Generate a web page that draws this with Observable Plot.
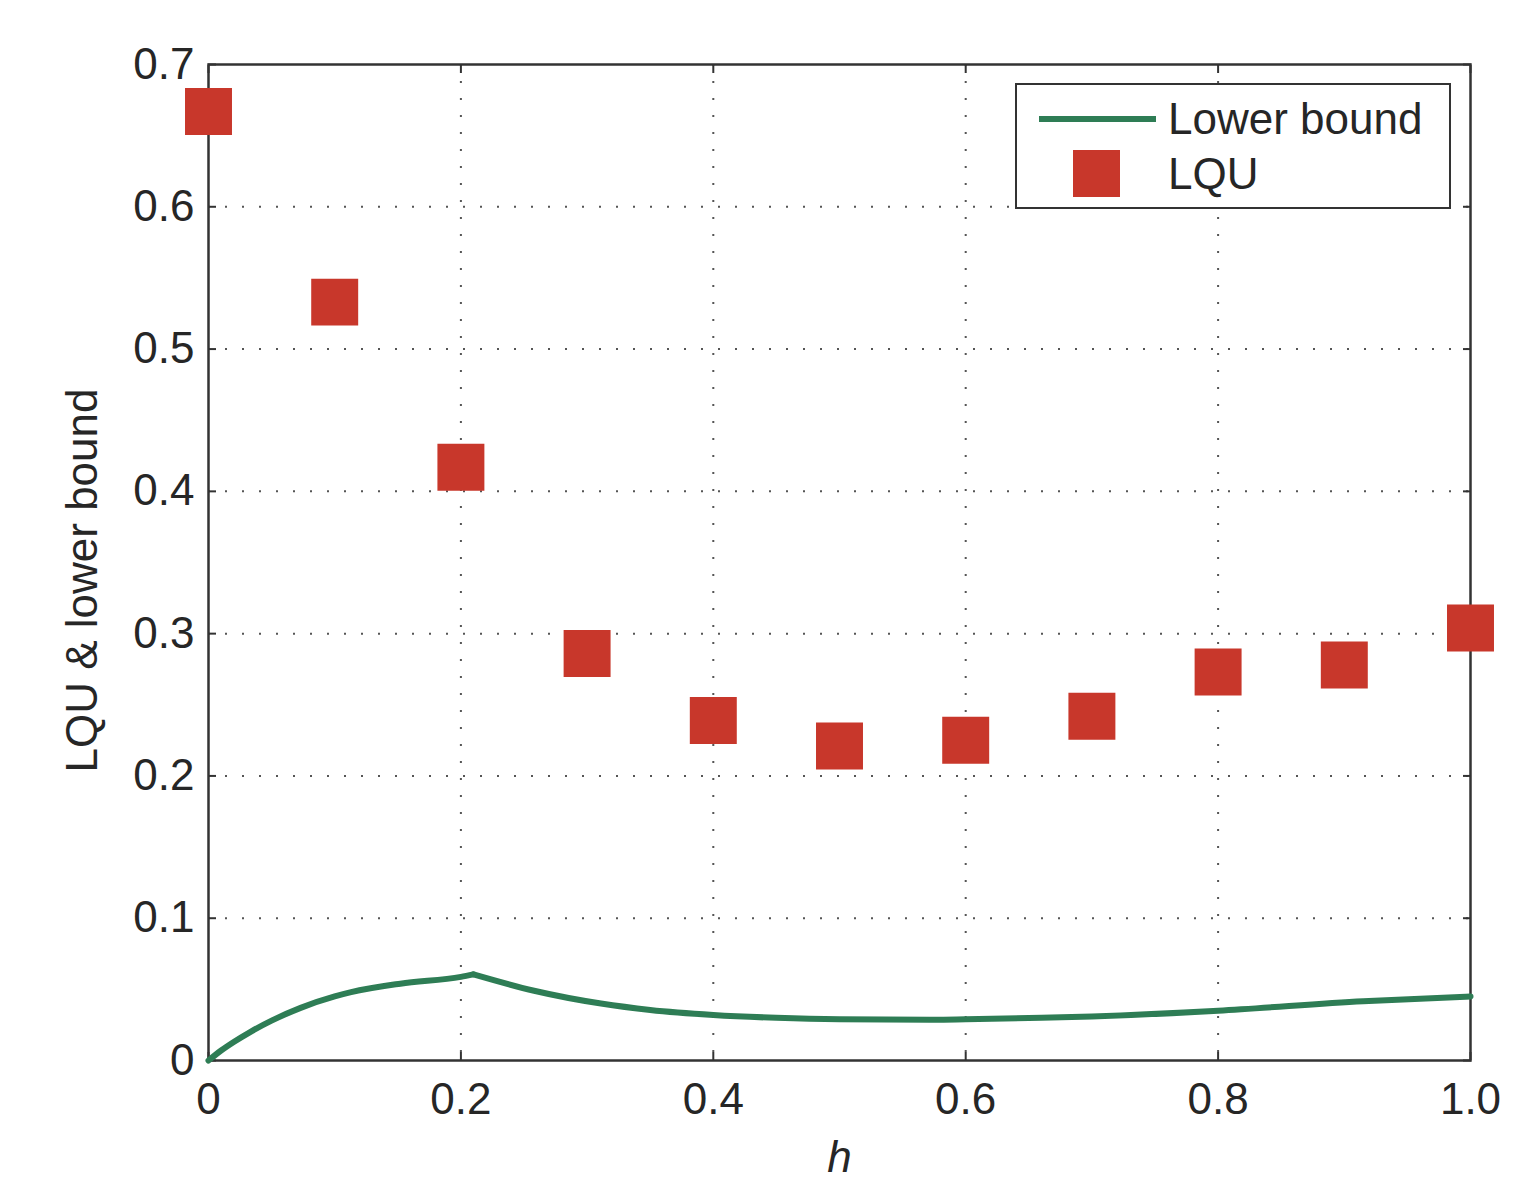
<!DOCTYPE html>
<html>
<head>
<meta charset="utf-8">
<script src="https://cdn.jsdelivr.net/npm/d3@7"></script>
<script src="https://cdn.jsdelivr.net/npm/@observablehq/plot@0.6"></script>
<style>
  html, body { margin: 0; padding: 0; background: #fff; }
  #wrap { position: relative; width: 1519px; height: 1180px; overflow: hidden; font-family: "Liberation Sans", Arial, sans-serif; }
  #legend { position: absolute; left: 1015px; top: 83px; width: 432px; height: 122px; border: 2px solid #333; background: #fff; color: #262626; font-size: 44px; }
  .line { position: absolute; left: 22px; top: 31px; width: 117px; height: 6px; background: #2e7d55; }
  .sq { position: absolute; left: 56px; top: 65px; width: 47px; height: 47px; background: #c8372b; }
  .lab { position: absolute; left: 151px; line-height: 44px; }
</style>
</head>
<body>
<div id="wrap"></div>
<script>
// ---- data ----
const lquH = [0, 0.1, 0.2, 0.3, 0.4, 0.5, 0.6, 0.7, 0.8, 0.9, 1.0];
const lquValues = [0.667, 0.533, 0.417, 0.286, 0.239, 0.221, 0.225, 0.242, 0.273, 0.278, 0.304];

const boundH = [0, 0.01, 0.02, 0.033, 0.05, 0.073, 0.1, 0.113, 0.152, 0.2, 0.21, 0.258, 0.311, 0.35, 0.4, 0.45, 0.5, 0.575, 0.6, 0.66, 0.7, 0.8, 0.915, 1.0];
const boundValues = [0, 0.007, 0.013, 0.020, 0.028, 0.037, 0.045, 0.048, 0.054, 0.0588, 0.0605, 0.049, 0.040, 0.0355, 0.032, 0.030, 0.029, 0.0287, 0.029, 0.030, 0.031, 0.035, 0.0417, 0.045];
const boundPeakH = 0.21; // the curve has a sharp corner here

const xTicks = [0, 0.2, 0.4, 0.6, 0.8, 1.0];
const xTickLabels = ["0", "0.2", "0.4", "0.6", "0.8", "1.0"];
const yTicks = [0, 0.1, 0.2, 0.3, 0.4, 0.5, 0.6, 0.7];
const yTickLabels = ["0", "0.1", "0.2", "0.3", "0.4", "0.5", "0.6", "0.7"];

const xLabel = "h";
const yLabel = "LQU & lower bound";
const legendLabels = ["Lower bound", "LQU"];

const green = "#2e7d55";
const red = "#c8372b";
const ink = "#262626";

const lqu = lquH.map((h, i) => ({h, v: lquValues[i]}));
// split into rising and falling parts (peak point shared) so the corner stays sharp
const bound = [];
boundH.forEach((h, i) => {
  if (h <= boundPeakH) bound.push({h, v: boundValues[i], part: "a"});
  if (h >= boundPeakH) bound.push({h, v: boundValues[i], part: "b"});
});

const xFmt = d => xTickLabels[xTicks.indexOf(d)];
const yFmt = d => yTickLabels[yTicks.indexOf(d)];

const plot = Plot.plot({
  width: 1519,
  height: 1180,
  marginLeft: 208,
  marginRight: 49,
  marginTop: 64,
  marginBottom: 120,
  style: {fontFamily: "'Liberation Sans', Arial, sans-serif", fontSize: "44px", color: ink, background: "#fff"},
  x: {domain: [0, 1], ticks: xTicks},
  y: {domain: [0, 0.7], ticks: yTicks},
  marks: [
    Plot.gridX(xTicks.slice(1, -1), {stroke: "#555", strokeOpacity: 1, strokeWidth: 2, strokeDasharray: "2,15"}),
    Plot.gridY(yTicks.slice(1, -1), {stroke: "#555", strokeOpacity: 1, strokeWidth: 2, strokeDasharray: "2,15"}),
    Plot.axisX(xTicks, {anchor: "bottom", tickSize: -8, stroke: "#333", strokeWidth: 2, tickFormat: () => "", label: null}),
    Plot.axisX(xTicks, {anchor: "top", tickSize: -8, stroke: "#333", strokeWidth: 2, tickFormat: () => "", label: null}),
    Plot.axisY(yTicks, {anchor: "left", tickSize: -8, stroke: "#333", strokeWidth: 2, tickFormat: () => "", label: null}),
    Plot.axisY(yTicks, {anchor: "right", tickSize: -8, stroke: "#333", strokeWidth: 2, tickFormat: () => "", label: null}),
    Plot.axisX(xTicks, {anchor: "bottom", tickSize: 0, tickPadding: 22, tickFormat: xFmt, fill: ink, fontSize: 44, label: null}),
    Plot.axisY(yTicks, {anchor: "left", tickSize: 0, tickPadding: 14, tickFormat: yFmt, fill: ink, fontSize: 44, label: null}),
    Plot.frame({stroke: "#333", strokeWidth: 2.5}),
    Plot.line(bound, {x: "h", y: "v", z: "part", stroke: green, strokeWidth: 6, curve: "monotone-x"}),
    Plot.dot(lqu, {x: "h", y: "v", symbol: "square", r: 26.5, fill: red, stroke: "none"}),
    Plot.text([xLabel], {frameAnchor: "bottom", dy: 97, text: d => d, fontStyle: "italic", fontSize: 44, fill: ink, lineAnchor: "middle"}),
    Plot.text([yLabel], {frameAnchor: "left", dx: -126, dy: 18, rotate: -90, text: d => d, fontSize: 44, fill: ink, textAnchor: "middle", lineAnchor: "middle"})
  ]
});

const wrap = document.getElementById("wrap");
wrap.appendChild(plot);

const legend = document.createElement("div");
legend.id = "legend";
legend.innerHTML = `
  <div class="line"></div><span class="lab" style="top:12px">${legendLabels[0]}</span>
  <div class="sq"></div><span class="lab" style="top:67px">${legendLabels[1]}</span>`;
wrap.appendChild(legend);
</script>
</body>
</html>
